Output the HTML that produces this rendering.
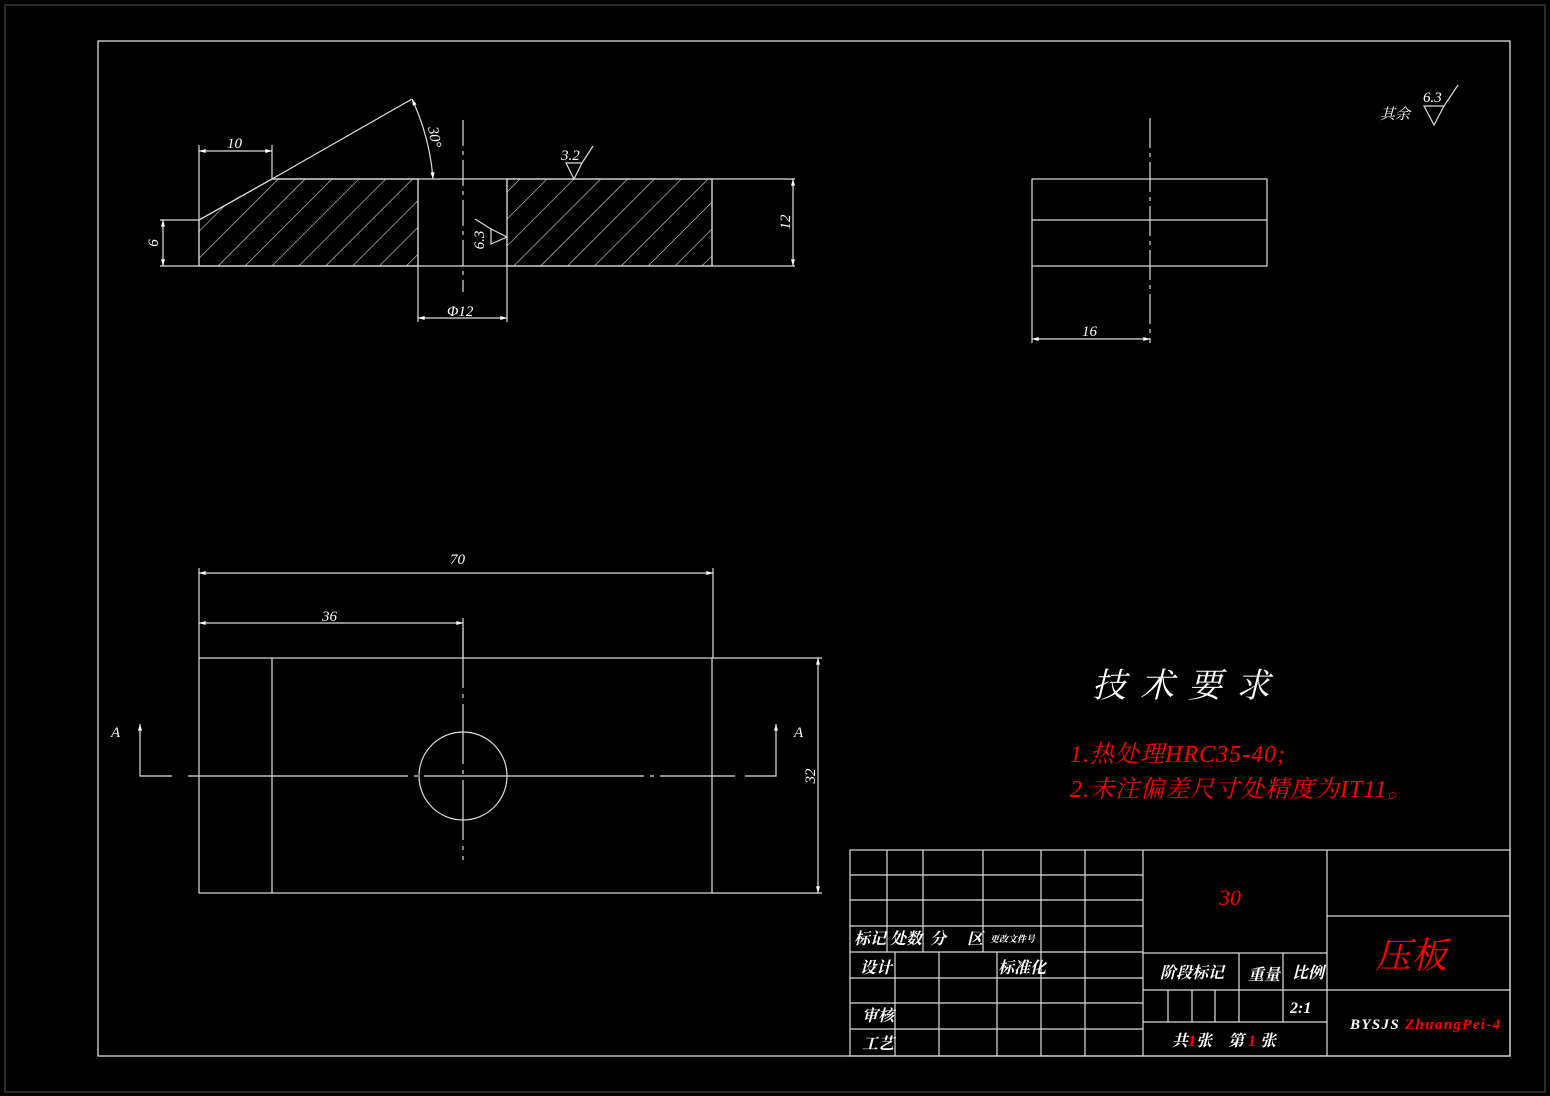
<!DOCTYPE html>
<html><head><meta charset="utf-8"><style>
html,body{margin:0;padding:0;background:#000;}
svg{display:block}
text{font-family:"Liberation Serif","Noto Serif CJK SC","Noto Sans CJK SC",serif;font-style:italic;}
</style></head><body>
<svg width="1550" height="1096" viewBox="0 0 1550 1096" xmlns="http://www.w3.org/2000/svg">
<defs>
<pattern id="h" patternUnits="userSpaceOnUse" width="19" height="19" patternTransform="rotate(45)">
<line x1="0" y1="0" x2="0" y2="19" stroke="#ccc" stroke-width="1.3"/>
</pattern>
<marker id="a" viewBox="0 0 10 6" refX="10" refY="3" markerWidth="10" markerHeight="4" orient="auto-start-reverse" markerUnits="userSpaceOnUse"><path d="M0,0L10,3L0,6z" fill="#fff"/></marker>
</defs>
<rect width="1550" height="1096" fill="#000"/>
<rect x="5" y="5" width="1540" height="1087" fill="none" stroke="#555" stroke-width="1"/>
<rect x="98" y="41" width="1412" height="1015" fill="none" stroke="#ddd" stroke-width="1.3"/>
<g stroke="#ddd" stroke-width="1.2" fill="none">
<path d="M199,220 L272,179 L418,179 L418,266 L199,266 Z" fill="url(#h)"/>
<rect x="507" y="179" width="205" height="87" fill="url(#h)"/>
<path d="M199,220 L272,179 L795,179 M160,266 L795,266 M199,220 L199,266 M418,179 V266 M507,179 V266 M712,179 V266"/>
<line x1="463" y1="120" x2="463" y2="292" stroke-dasharray="26,5,4,5"/>
<line x1="272" y1="179" x2="412" y2="99"/>
<path d="M412,99 Q430,138 433,179" marker-start="url(#a)" marker-end="url(#a)"/>
<line x1="199" y1="145" x2="199" y2="220"/><line x1="272" y1="145" x2="272" y2="179"/>
<line x1="199" y1="151" x2="272" y2="151" marker-start="url(#a)" marker-end="url(#a)"/>
<line x1="160" y1="220" x2="199" y2="220"/>
<line x1="163" y1="220" x2="163" y2="266" marker-start="url(#a)" marker-end="url(#a)"/>
<line x1="793" y1="179" x2="793" y2="266" marker-start="url(#a)" marker-end="url(#a)"/>
<line x1="418" y1="266" x2="418" y2="322"/><line x1="507" y1="266" x2="507" y2="322"/>
<line x1="418" y1="318" x2="507" y2="318" marker-start="url(#a)" marker-end="url(#a)"/>
<path d="M566,163 L582,163 L574,179 Z M582,163 L593,146"/>
<path d="M507,237 L491,229 L491,244 Z M491,229 L475,219"/>
<rect x="1032" y="179" width="235" height="87"/>
<line x1="1032" y1="220" x2="1267" y2="220"/>
<line x1="1150" y1="118" x2="1150" y2="343" stroke-dasharray="30,5,4,5"/>
<line x1="1032" y1="266" x2="1032" y2="343"/>
<line x1="1032" y1="339" x2="1150" y2="339" marker-start="url(#a)" marker-end="url(#a)"/>
<rect x="199" y="658" width="513" height="235"/>
<line x1="712" y1="658" x2="822" y2="658"/><line x1="712" y1="893" x2="822" y2="893"/>
<line x1="272" y1="658" x2="272" y2="893"/>
<circle cx="463" cy="776" r="44"/>
<line x1="188" y1="776" x2="735" y2="776" stroke-dasharray="220,6,4,6"/>
<line x1="463" y1="628" x2="463" y2="860" stroke-dasharray="60,6,4,6"/>
<line x1="199" y1="568" x2="199" y2="658"/><line x1="713" y1="568" x2="713" y2="658"/>
<line x1="463" y1="618" x2="463" y2="658"/>
<line x1="199" y1="573" x2="713" y2="573" marker-start="url(#a)" marker-end="url(#a)"/>
<line x1="199" y1="623" x2="463" y2="623" marker-start="url(#a)" marker-end="url(#a)"/>
<line x1="818" y1="658" x2="818" y2="893" marker-start="url(#a)" marker-end="url(#a)"/>
<path d="M172,776 H140 V724" marker-end="url(#a)"/>
<path d="M745,776 H776 V724" marker-end="url(#a)"/>
<path d="M1424,106 L1444,106 L1434,125 Z M1444,106 L1458,85"/>
<rect x="850" y="850" width="660" height="206"/>
<line x1="1143" y1="850" x2="1143" y2="1056"/><line x1="1327" y1="850" x2="1327" y2="1056"/>
<path d="M850,875H1143M850,900H1143M850,926H1143M850,952H1143M850,978H1143M850,1003H1143M850,1029H1143"/>
<path d="M887,850V952M923,850V952M983,850V952M1041,850V1056M1085,850V1056"/>
<path d="M895,952V1056M939,952V1056M997,952V1056"/>
<path d="M1143,953H1327M1143,990H1327M1143,1022H1327M1239,953V1022M1283,953V1022M1168,990V1022M1192,990V1022M1215,990V1022"/>
<path d="M1327,916H1510M1327,990H1510"/>
</g>
<g fill="#fff" font-size="15">
<text x="227" y="148">10</text>
<text x="0" y="0" transform="translate(158,243) rotate(-90)" text-anchor="middle">6</text>
<text x="0" y="0" transform="translate(790,222) rotate(-90)" text-anchor="middle">12</text>
<text x="0" y="0" transform="translate(430,138) rotate(80)" text-anchor="middle">30°</text>
<text x="447" y="316">Φ12</text>
<text x="561" y="160">3.2</text>
<text x="0" y="0" transform="translate(484,240) rotate(-90)" text-anchor="middle">6.3</text>
<text x="1082" y="336">16</text>
<text x="450" y="564">70</text>
<text x="322" y="621">36</text>
<text x="0" y="0" transform="translate(815,776) rotate(-90)" text-anchor="middle">32</text>
<text x="111" y="737">A</text><text x="794" y="737">A</text>
<text x="1380" y="119">其余</text><text x="1423" y="102">6.3</text>
<text x="1188" y="697" font-size="34" text-anchor="middle" font-style="normal" letter-spacing="14">技术要求</text>
<g font-size="16" font-weight="bold">
<text x="854" y="944">标记</text><text x="890" y="944">处数</text><text x="930" y="944">分</text><text x="967" y="944">区</text>
<text x="990" y="942" font-size="9">更改文件号</text>
<text x="860" y="973">设计</text><text x="998" y="973">标准化</text>
<text x="862" y="1021">审核</text><text x="862" y="1049">工艺</text>
<text x="1160" y="978">阶段标记</text><text x="1248" y="980">重量</text><text x="1292" y="978">比例</text>
<text x="1290" y="1013">2:1</text>
<text x="1172" y="1046">共<tspan fill="#f00">1</tspan>张　第 <tspan fill="#f00">1</tspan> 张</text>
<text x="1350" y="1029" font-size="15" textLength="150">BYSJS <tspan fill="#f00">ZhuangPei-4</tspan></text>
</g>
</g>
<g fill="#f00">
<text x="1070" y="762" font-size="24" letter-spacing="1">1.热处理HRC35-40;</text>
<text x="1070" y="797" font-size="24" letter-spacing="1">2.未注偏差尺寸处精度为IT11。</text>
<text x="1230" y="905" font-size="22" text-anchor="middle">30</text>
<text x="1411" y="968" font-size="36" text-anchor="middle" font-style="normal">压板</text>
</g>
</svg>
</body></html>
